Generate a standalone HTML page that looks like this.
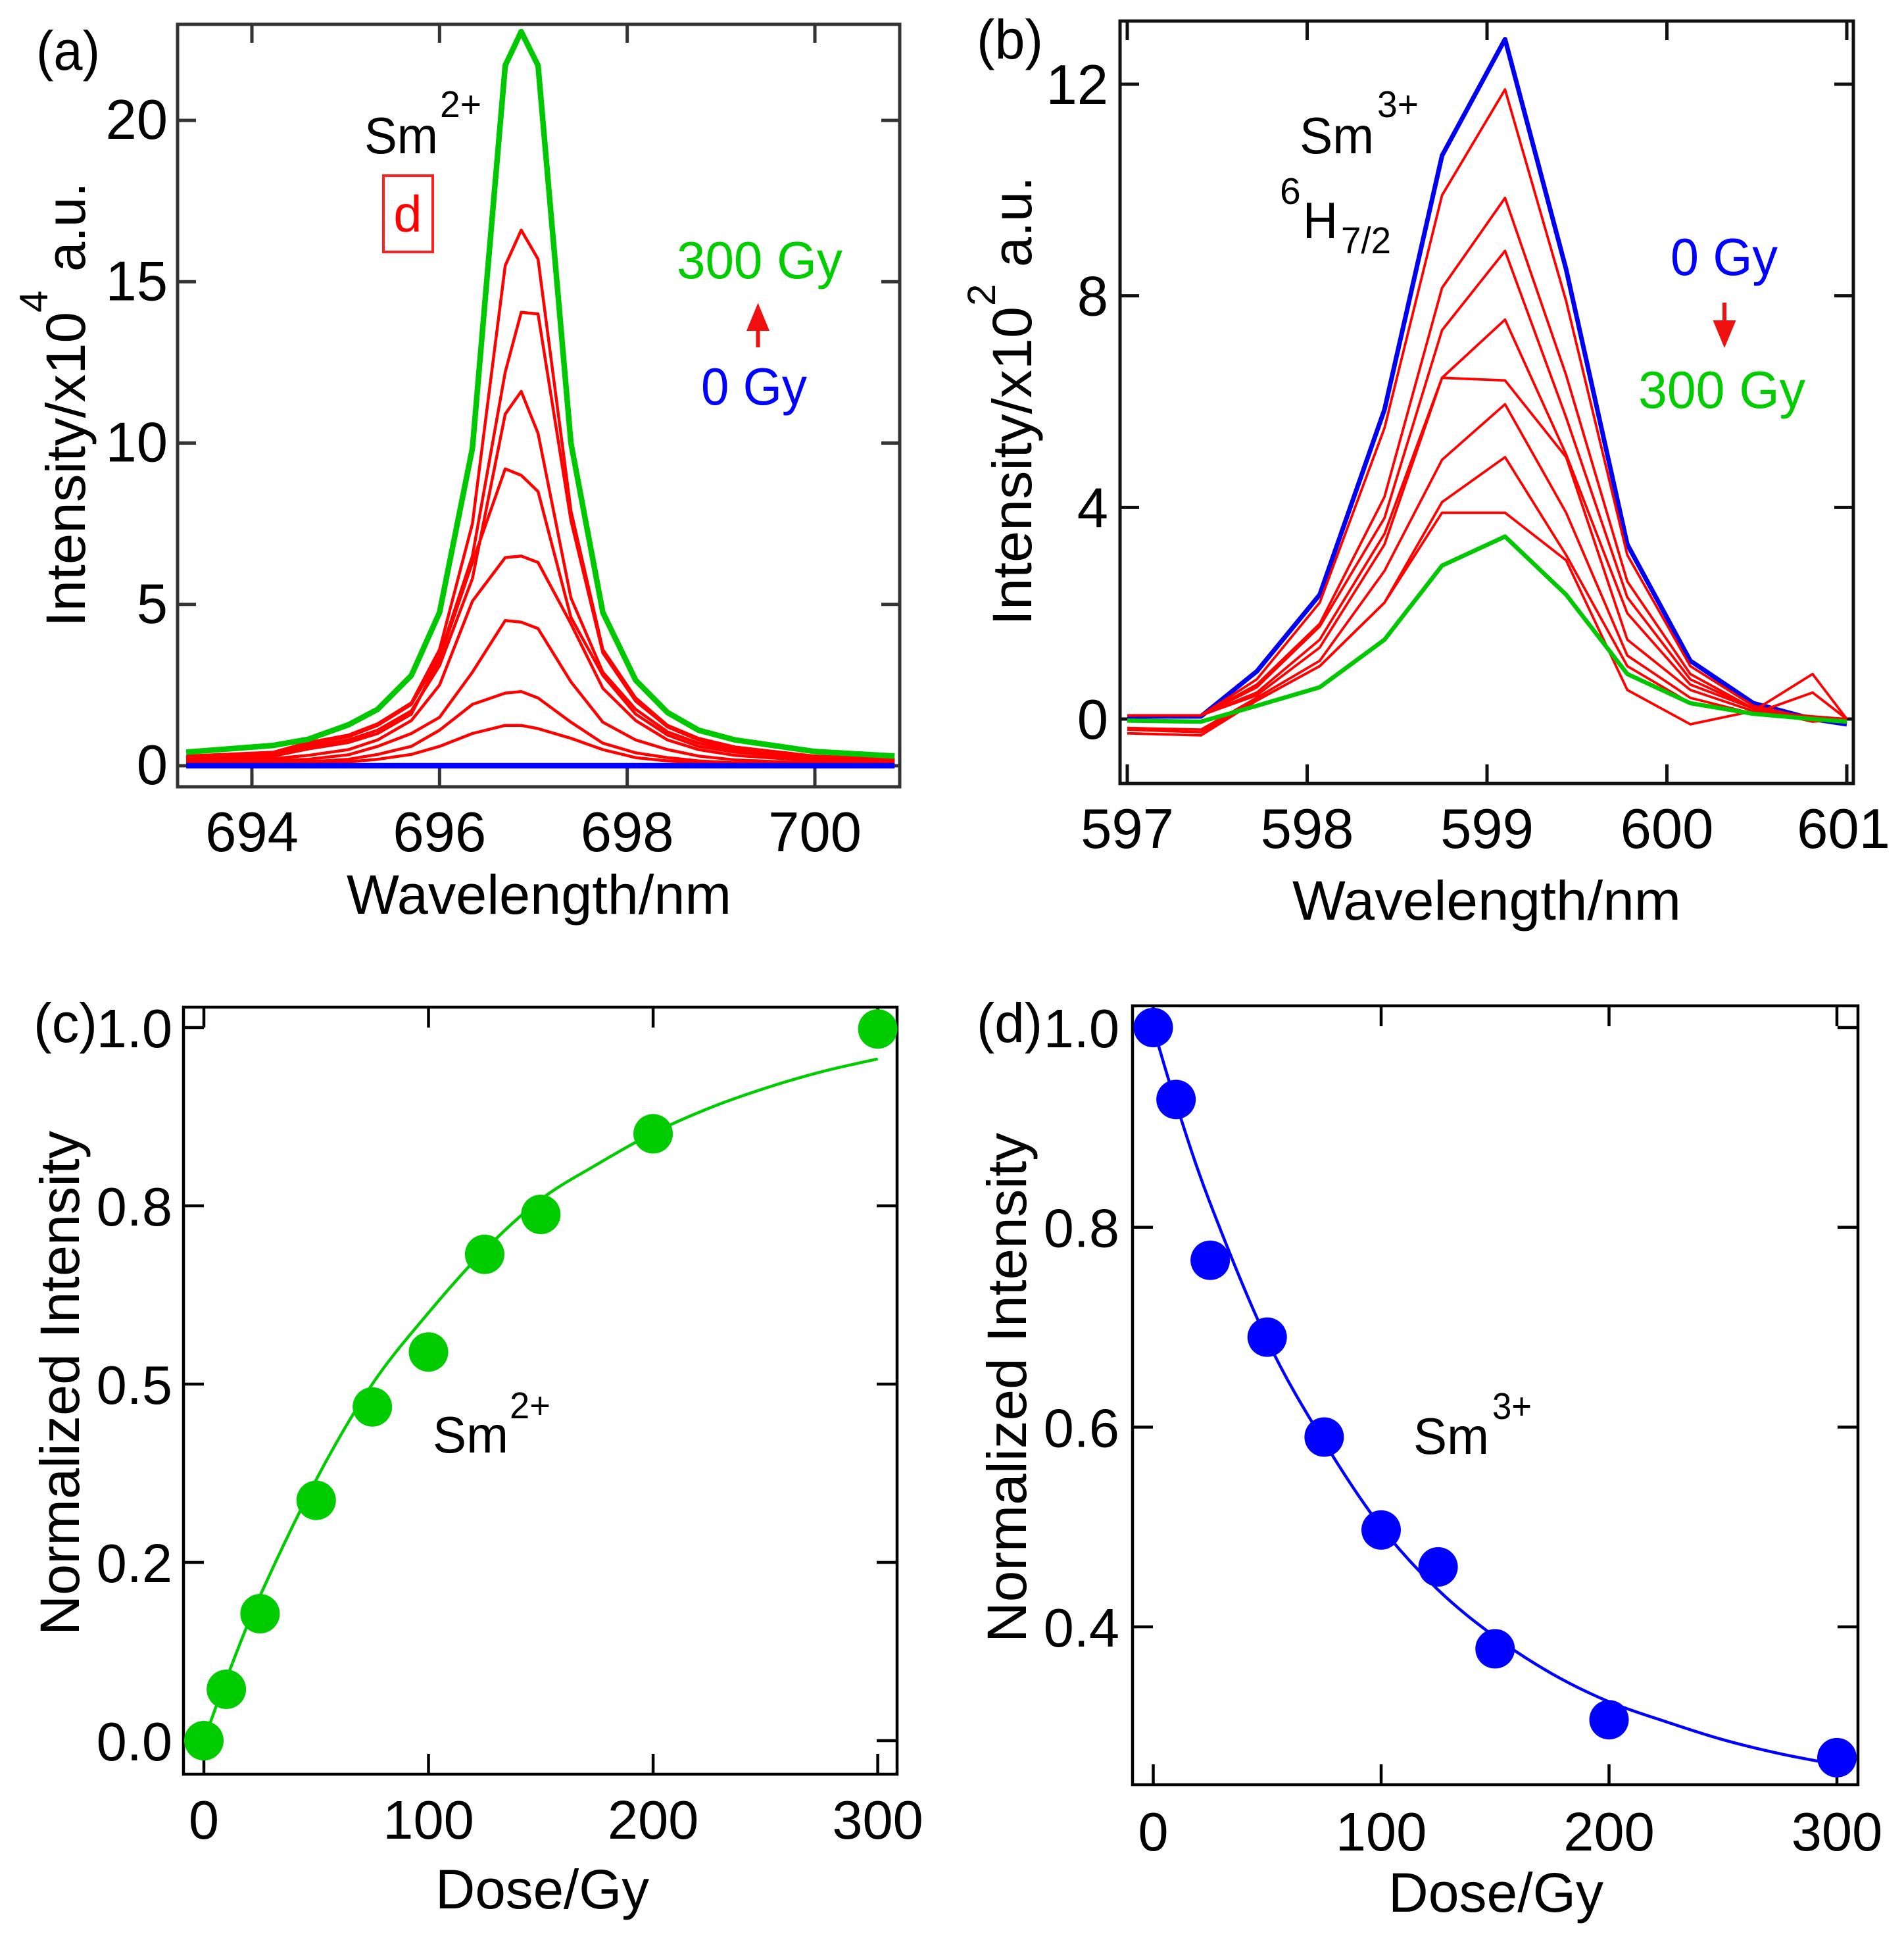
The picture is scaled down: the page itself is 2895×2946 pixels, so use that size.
<!DOCTYPE html>
<html lang="en"><head><meta charset="utf-8"><title>Sm2+ and Sm3+ emission vs dose</title>
<style>
html,body{margin:0;padding:0;background:#fff}
svg{display:block}
text{font-family:"Liberation Sans",sans-serif;fill:#000}
</style></head>
<body>
<svg id="fig" xmlns="http://www.w3.org/2000/svg" width="2895" height="2946" viewBox="0 0 2895 2946">
<rect width="2895" height="2946" fill="#fff"/>
<g id="layer-marks"></g>
<g id="layer-axes"></g>

<!-- panel a annotations -->
<text x="55" y="106" font-size="84" textLength="97" lengthAdjust="spacingAndGlyphs">(a)</text>
<text x="527" y="1389" font-size="84" textLength="585" lengthAdjust="spacingAndGlyphs">Wavelength/nm</text>
<text transform="translate(129,953) rotate(-90)" font-size="84" textLength="479" lengthAdjust="spacingAndGlyphs">Intensity/x10</text>
<text transform="translate(72,475) rotate(-90)" font-size="60">4</text>
<text transform="translate(129,413) rotate(-90)" font-size="84" textLength="136" lengthAdjust="spacingAndGlyphs">a.u.</text>
<text x="554" y="233" font-size="78" textLength="112" lengthAdjust="spacingAndGlyphs">Sm</text>
<text x="669" y="178" font-size="57" textLength="63" lengthAdjust="spacingAndGlyphs">2+</text>
<rect x="583" y="267" width="75" height="116" fill="none" stroke="#ff2020" stroke-width="4"/>
<text x="620" y="352" font-size="78" text-anchor="middle" style="fill:#ff0000">d</text>
<text x="1029" y="423" font-size="80" textLength="252" lengthAdjust="spacingAndGlyphs" style="fill:#00cc00">300 Gy</text>
<path d="M1149.500 528V503H1135L1152.500 460.500L1170 503H1155.500V528Z" fill="#f01010"/>
<text x="1066" y="615" font-size="80" textLength="161" lengthAdjust="spacingAndGlyphs" style="fill:#0000ff">0 Gy</text>

<!-- panel b annotations -->
<text x="1485" y="89" font-size="84" textLength="101" lengthAdjust="spacingAndGlyphs">(b)</text>
<text x="1965" y="1398" font-size="84" textLength="591" lengthAdjust="spacingAndGlyphs">Wavelength/nm</text>
<text transform="translate(1568,951) rotate(-90)" font-size="84" textLength="485" lengthAdjust="spacingAndGlyphs">Intensity/x10</text>
<text transform="translate(1513,465) rotate(-90)" font-size="60">2</text>
<text transform="translate(1568,406) rotate(-90)" font-size="84" textLength="138" lengthAdjust="spacingAndGlyphs">a.u.</text>
<text x="1976" y="233" font-size="78" textLength="113" lengthAdjust="spacingAndGlyphs">Sm</text>
<text x="2094" y="178" font-size="57" textLength="63" lengthAdjust="spacingAndGlyphs">3+</text>
<text x="1946" y="310" font-size="57">6</text>
<text x="1981" y="362" font-size="78" textLength="53" lengthAdjust="spacingAndGlyphs">H</text>
<text x="2039" y="385" font-size="57" textLength="76" lengthAdjust="spacingAndGlyphs">7/2</text>
<text x="2540" y="418" font-size="80" textLength="163" lengthAdjust="spacingAndGlyphs" style="fill:#0000ff">0 Gy</text>
<path d="M2619 460V487H2604.500L2622 529L2639.500 487H2625V460Z" fill="#f01010"/>
<text x="2491" y="620" font-size="80" textLength="254" lengthAdjust="spacingAndGlyphs" style="fill:#00cc00">300 Gy</text>

<!-- panel c annotations -->
<text x="51" y="1584" font-size="84" textLength="97" lengthAdjust="spacingAndGlyphs">(c)</text>
<text x="662" y="2901" font-size="84" textLength="325" lengthAdjust="spacingAndGlyphs">Dose/Gy</text>
<text transform="translate(120,2486) rotate(-90)" font-size="84" textLength="767" lengthAdjust="spacingAndGlyphs">Normalized Intensity</text>
<text x="658" y="2208" font-size="78" textLength="115" lengthAdjust="spacingAndGlyphs">Sm</text>
<text x="775" y="2156" font-size="57" textLength="62" lengthAdjust="spacingAndGlyphs">2+</text>

<!-- panel d annotations -->
<text x="1485" y="1584" font-size="84" textLength="100" lengthAdjust="spacingAndGlyphs">(d)</text>
<text x="2111" y="2906" font-size="84" textLength="327" lengthAdjust="spacingAndGlyphs">Dose/Gy</text>
<text transform="translate(1560,2497) rotate(-90)" font-size="84" textLength="775" lengthAdjust="spacingAndGlyphs">Normalized Intensity</text>
<text x="2149" y="2210" font-size="78" textLength="115" lengthAdjust="spacingAndGlyphs">Sm</text>
<text x="2269" y="2157" font-size="57" textLength="60" lengthAdjust="spacingAndGlyphs">3+</text>
</svg>

<script>
// ---------- panel (a) data ----------
const waveA = [693.3,694.23,694.6,695.03,695.34,695.7,696.0,696.35,696.7,696.87,697.05,697.4,697.74,698.09,698.43,698.76,699.15,700,700.85];
const aGreen300 = [.42,.63,.82,1.27,1.75,2.8,4.75,9.84,21.7,22.75,21.7,10,4.75,2.65,1.65,1.1,.8,.44,.3];
const aRed1 = [.3,.42,.72,.95,1.3,1.95,3.6,7.5,15.5,16.6,15.7,7.9,3.6,2.1,1.25,.85,.58,.3,.2];
const aRed2 = [.27,.38,.68,.9,1.25,1.9,3.4,6.5,12.2,14.05,14.0,7.6,3.5,2.0,1.2,.8,.52,.28,.18];
const aRed3 = [.24,.34,.6,.8,1.1,1.7,3.1,5.8,10.9,11.6,10.3,5.2,2.9,1.75,1.05,.7,.48,.25,.15];
const aRed4 = [.2,.3,.52,.72,1.0,1.6,3.3,6.3,9.2,9.0,8.5,4.6,2.8,1.6,.95,.6,.42,.22,.13];
const aRed5 = [.15,.22,.32,.5,.8,1.4,2.5,5.1,6.45,6.5,6.3,4.4,2.4,1.4,.8,.5,.32,.15,.1];
const aRed6 = [.1,.16,.2,.34,.6,1.0,1.5,2.9,4.5,4.45,4.25,2.6,1.35,.8,.5,.3,.18,.08,.05];
const aRed7 = [.07,.1,.12,.2,.35,.6,1.1,1.9,2.25,2.3,2.1,1.35,.7,.4,.25,.15,.09,.04,.03];
const aRed8 = [.05,.07,.08,.12,.2,.35,.6,1.0,1.25,1.25,1.15,.85,.5,.25,.15,.08,.05,.02,.02];
const aBlue0 = [0,0,0,0,0,0,0,0,0,0,0,0,0,0,0,0,0,0,0];
const aXTicks = [694,696,698,700];
const aYTicks = [0,5,10,15,20];

// ---------- panel (b) data ----------
const waveB = [597,597.41,597.72,598.07,598.43,598.75,599.1,599.44,599.78,600.13,600.48,600.81,601];
const bBlue0 = [.05,.05,.9,2.35,5.85,10.65,12.85,8.5,3.3,1.1,.3,0,-.1];
const bRed1 = [.07,.07,.75,2.2,5.5,9.9,11.9,7.9,3.1,1.0,.25,0,0];
const bRed2 = [.07,.07,.65,1.8,4.2,8.15,9.85,6.5,2.6,.85,.2,0,0];
const bRed3 = [.07,.07,.6,1.75,3.8,7.35,8.85,5.7,2.3,.75,.2,-.05,0];
const bRed4 = [.07,.07,.5,1.5,3.5,6.45,7.55,5.0,2.0,.65,.2,0,0];
const bRed5 = [.07,.07,.45,1.35,3.3,6.45,6.4,4.95,1.5,.55,.15,.05,0];
const bRed6 = [-.17,-.2,.4,1.1,2.8,4.9,5.95,3.9,1.2,.4,.1,0,0];
const bRed7 = [-.2,-.25,.35,1.0,2.2,4.1,4.95,3.1,1.0,.3,.1,.5,0];
const bRed8 = [-.27,-.31,.35,1.0,2.2,3.9,3.9,3.0,.55,-.1,.15,.85,0];
const bGreen300 = [-.03,-.05,.25,.6,1.5,2.9,3.45,2.35,.85,.3,.1,0,-.05];
const bXTicks = [597,598,599,600,601];
const bYTicks = [0,4,8,12];

// ---------- panel (c) data ----------
const doses = [0,10,25,50,75,100,125,150,200,300];
const cPoints = [0,.072,.178,.337,.468,.545,.682,.738,.851,.998];
const fitDosesC = [0,10,25,50,75,100,125,150,175,200,225,250,275,300];
const cFit = [0,.0865,.203,.366,.5,.6,.688,.759,.808,.852,.887,.915,.938,.956];
const cXTicks = [0,100,200,300];
const cYTicks = [0,.25,.5,.75,1];
const cYTickLabels = ['0.0','0.2','0.5','0.8','1.0'];

// ---------- panel (d) data ----------
const dPoints = [1,.928,.767,.69,.59,.497,.46,.378,.307,.269];
const fitDosesD = [0,10,25,50,75,100,125,150,175,200,225,250,275,300];
const dFit = [1,.924,.824,.687,.585,.5,.437,.39,.353,.325,.305,.287,.273,.262];
const dXTicks = [0,100,200,300];
const dYTicks = [.4,.6,.8,1];
const dYTickLabels = ['0.4','0.6','0.8','1.0'];

const NS = 'http://www.w3.org/2000/svg';
const marks = document.getElementById('layer-marks');
const axesLayer = document.getElementById('layer-axes');
const linear = (d0,d1,p0,p1) => v => p0 + (v-d0)*(p1-p0)/(d1-d0);

// axis mappings: two known data values pinned to their pixel locations
const xA = linear(694,700,383,1239), yA = linear(0,20,1164,183);
const xB = linear(597,601,1714,2808), yB = linear(0,12,1093,128);
const xC = linear(0,300,310,1334.6), yC = linear(0,1,2646,1562);
const xD = linear(0,300,1753.5,2793), yD = linear(.4,1,2473,1562);

function polyPath(xs,ys,fx,fy){
  return xs.map((x,i)=>(i?'L':'M')+fx(x).toFixed(1)+' '+fy(ys[i]).toFixed(1)).join('');
}
function smoothPath(xs,ys,fx,fy){
  const p = xs.map((x,i)=>[fx(x),fy(ys[i])]);
  let d = 'M'+p[0][0].toFixed(1)+' '+p[0][1].toFixed(1);
  for(let i=0;i<p.length-1;i++){
    const a=p[Math.max(i-1,0)],b=p[i],c=p[i+1],e=p[Math.min(i+2,p.length-1)];
    d+='C'+(b[0]+(c[0]-a[0])/6).toFixed(1)+' '+(b[1]+(c[1]-a[1])/6).toFixed(1)+' '+
       (c[0]-(e[0]-b[0])/6).toFixed(1)+' '+(c[1]-(e[1]-b[1])/6).toFixed(1)+' '+
       c[0].toFixed(1)+' '+c[1].toFixed(1);
  }
  return d;
}
function drawSeries(d,color,width,name){
  const el = document.createElementNS(NS,'path');
  el.setAttribute('d',d);
  el.setAttribute('fill','none');
  el.setAttribute('stroke',color);
  el.setAttribute('stroke-width',width);
  el.setAttribute('stroke-linejoin','round');
  
  
  marks.appendChild(el);
}
function drawDot(cx,cy,r,color,name){
  const el = document.createElementNS(NS,'circle');
  el.setAttribute('cx',cx);
  el.setAttribute('cy',cy);
  el.setAttribute('r',r);
  el.setAttribute('fill',color);
  
  
  marks.appendChild(el);
}
function drawSeg(x1,y1,x2,y2,w,color,name){
  const el = document.createElementNS(NS,'line');
  el.setAttribute('x1',x1);
  el.setAttribute('y1',y1);
  el.setAttribute('x2',x2);
  el.setAttribute('y2',y2);
  el.setAttribute('stroke',color);
  el.setAttribute('stroke-width',w);
  
  
  axesLayer.appendChild(el);
}
function drawLabel(x,y,str,anchor,size,name){
  const el = document.createElementNS(NS,'text');
  el.setAttribute('x',x);
  el.setAttribute('y',y);
  el.setAttribute('text-anchor',anchor);
  el.setAttribute('font-size',size);
  
  
  el.textContent = str;
  axesLayer.appendChild(el);
}
function drawFrame(l,t,r,b,w,color,name){
  const el = document.createElementNS(NS,'rect');
  el.setAttribute('x',l);
  el.setAttribute('y',t);
  el.setAttribute('width',r-l);
  el.setAttribute('height',b-t);
  el.setAttribute('fill','none');
  el.setAttribute('stroke',color);
  el.setAttribute('stroke-width',w);
  
  
  axesLayer.appendChild(el);
}
function buildAxes(o){
  drawFrame(o.l,o.t,o.r,o.b,o.w,o.color,o.id+'-frame');
  o.xTicks.forEach((v,i)=>{
    const x=o.fx(v);
    drawSeg(x,o.b,x,o.b-o.len,o.w,o.color,o.id+'-x-tick');
    drawSeg(x,o.t,x,o.t+o.len,o.w,o.color,o.id+'-x-tick-top');
    const lx=Math.min(x,o.maxLabelX||1e9);
    drawLabel(lx,o.xBase,String(v),'middle',o.fs,o.id+'-x-tick-label');
  });
  o.yTicks.forEach((v,i)=>{
    const y=o.fy(v);
    drawSeg(o.l,y,o.l+o.len,y,o.w,o.color,o.id+'-y-tick');
    drawSeg(o.r,y,o.r-o.len,y,o.w,o.color,o.id+'-y-tick-right');
    drawLabel(o.yRight,y+o.yDrop,o.yLabels?o.yLabels[i]:String(v),'end',o.fs,o.id+'-y-tick-label');
  });
}

// panel a
[aRed8,aRed7,aRed6,aRed5,aRed4,aRed3,aRed2,aRed1].forEach(s=>drawSeries(polyPath(waveA,s,xA,yA),'#ff0000',4.5,'panel-a-red-spectrum'));
drawSeries(polyPath(waveA,aGreen300,xA,yA),'#00c800',8.5,'panel-a-green-spectrum-300gy');
drawSeries(polyPath(waveA,aBlue0,xA,yA),'#0000ff',8.5,'panel-a-blue-spectrum-0gy');
buildAxes({id:'panel-a',l:270,t:37,r:1368,b:1196,w:5,color:'#333',len:28,fx:xA,fy:yA,xTicks:aXTicks,yTicks:aYTicks,xBase:1294,yRight:255,yDrop:28,fs:85});

// panel b: blue goes under the reds, as in the reference
drawSeries(polyPath(waveB,bBlue0,xB,yB),'#0000f0',7,'panel-b-blue-spectrum-0gy');
[bRed8,bRed7,bRed6,bRed5,bRed4,bRed3,bRed2,bRed1].forEach(s=>drawSeries(polyPath(waveB,s,xB,yB),'#ff0000',3.8,'panel-b-red-spectrum'));
drawSeries(polyPath(waveB,bGreen300,xB,yB),'#00c800',6.5,'panel-b-green-spectrum-300gy');
buildAxes({id:'panel-b',l:1703,t:32,r:2818,b:1191,w:5,color:'#111',len:29,fx:xB,fy:yB,xTicks:bXTicks,yTicks:bYTicks,xBase:1289,yRight:1685,yDrop:30,fs:85,maxLabelX:2803});

// panel c
drawSeries(smoothPath(fitDosesC,cFit,xC,yC),'#00cc00',4.5,'panel-c-fit-curve');
doses.forEach((d,i)=>drawDot(xC(d),yC(cPoints[i]),30,'#00cc00','panel-c-data-point'));
buildAxes({id:'panel-c',l:279,t:1531,r:1364,b:2697,w:4.5,color:'#000',len:31,fx:xC,fy:yC,xTicks:cXTicks,yTicks:cYTicks,yLabels:cYTickLabels,xBase:2795,yRight:262,yDrop:30,fs:83});

// panel d
drawSeries(smoothPath(fitDosesD,dFit,xD,yD),'#0000ff',4.5,'panel-d-fit-curve');
doses.forEach((d,i)=>drawDot(xD(d),yD(dPoints[i]),30,'#0000ff','panel-d-data-point'));
buildAxes({id:'panel-d',l:1722,t:1529,r:2825,b:2713,w:4.5,color:'#000',len:31,fx:xD,fy:yD,xTicks:dXTicks,yTicks:dYTicks,yLabels:dYTickLabels,xBase:2813,yRight:1702,yDrop:30,fs:83});
// marks sit above the frames and ticks, as the dots do in the reference
document.getElementById('fig').insertBefore(axesLayer,marks);
</script>
</body></html>
